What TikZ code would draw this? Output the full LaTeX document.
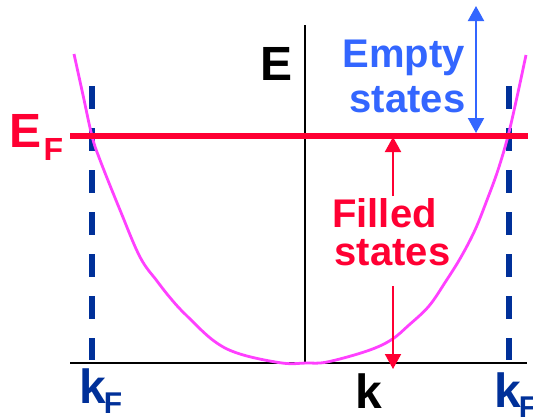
\documentclass[tikz,border=0pt]{standalone}
\usepackage{fontspec}
\setmainfont{Liberation Sans}
\usetikzlibrary{arrows.meta}
\definecolor{efred}{RGB}{255,0,51}
\definecolor{emptyblue}{RGB}{51,102,255}
\definecolor{kfblue}{RGB}{0,48,153}
\definecolor{bandmag}{RGB}{255,64,255}
\tikzset{
  bigtxt/.style={inner sep=0pt, font=\fontsize{48}{52}\selectfont\bfseries},
  midtxt/.style={inner sep=0pt, font=\fontsize{40}{44}\selectfont\bfseries},
  axisline/.style={line width=2.5pt, black},
  kfdash/.style={line width=5.5pt, kfblue, dash pattern=on 23pt off 19pt},
  redarrow/.style={line width=2pt, efred, -{Triangle[length=15pt,width=16pt]}},
  bluearrow/.style={line width=2pt, emptyblue, {Triangle[length=15pt,width=16pt]}-{Triangle[length=15pt,width=16pt]}},
}
\begin{document}
\begin{tikzpicture}[x=1pt,y=-1pt]
\useasboundingbox (0,0) rectangle (533,416);
% axes
\coordinate (ktop) at (305,25);
\coordinate (korig) at (305,363);
\coordinate (kleft) at (70,363);
\coordinate (kright) at (527,363);
\draw[axisline] (kleft) -- (kright);
\draw[axisline] (ktop) -- (korig);
% dashed k_F lines
\coordinate (dl1) at (92,86);
\coordinate (dl2) at (92,360);
\coordinate (dr1) at (509,86);
\coordinate (dr2) at (509,360);
\draw[kfdash] (dl1) -- (dl2);
\draw[kfdash] (dr1) -- (dr2);
% band
\draw[bandmag, line width=2.8pt] plot[smooth, tension=0.6] coordinates {
 (74,54) (83,95) (92,136) (100,160) (120,210) (140,257) (157,281) (172,300)
 (186,315) (214,341) (240,354) (282,363) (306,363) (327,362) (367,351)
 (391,340) (409,325) (429,306) (446,281) (461,257) (475,230) (487,200)
 (498,170) (508,136) (517,97) (526,55)};
% Fermi level
\coordinate (efl) at (70,136);
\coordinate (efr) at (528,136);
\draw[efred, line width=6pt] (efl) -- (efr);
% arrows
\coordinate (ba1) at (476,6);
\coordinate (ba2) at (476,133);
\draw[bluearrow] (ba1) -- (ba2);
\coordinate (ra1) at (393,196);
\coordinate (ra2) at (393,137);
\coordinate (ra3) at (393,286);
\coordinate (ra4) at (393,369);
\draw[redarrow] (ra1) -- (ra2);
\draw[redarrow] (ra3) -- (ra4);
% labels
\node[bigtxt, anchor=base] (elab) at (276.5,80) {E};
\node[bigtxt, anchor=base west, text=efred] (eflab) at (9.5,147) {E\hspace{2pt}\raisebox{-13pt}{\fontsize{32}{32}\selectfont F}};
\node[bigtxt, anchor=base west, text=kfblue] (kfl) at (79,403) {k\kern-2pt\raisebox{-10pt}{\fontsize{30}{30}\selectfont F}};
\node[bigtxt, anchor=base] (klab) at (368.5,408) {k};
\node[bigtxt, anchor=base west, text=kfblue] (kfr) at (494,407) {k\kern-2pt\raisebox{-10pt}{\fontsize{30}{30}\selectfont F}};
\node[midtxt, anchor=base, text=emptyblue] (empty1) at (403.5,67) {Empty};
\node[midtxt, anchor=base, text=emptyblue] (empty2) at (407.5,112) {states};
\node[midtxt, anchor=base, text=efred] (filled1) at (384.5,227) {Filled};
\node[midtxt, anchor=base, text=efred] (filled2) at (392.5,265) {states};
\end{tikzpicture}
\end{document}
